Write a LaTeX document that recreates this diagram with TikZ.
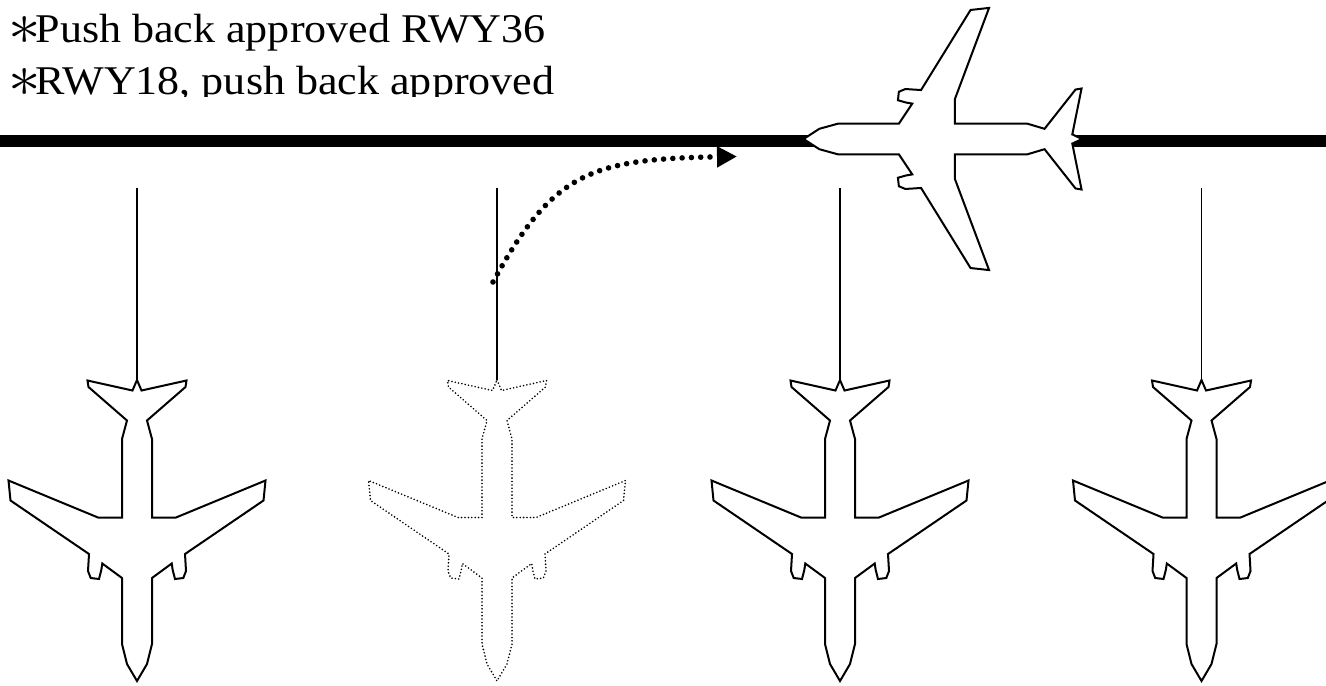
\documentclass[tikz,border=0pt]{standalone}
\usepackage{fontspec}
\setmainfont{Liberation Serif}
\usetikzlibrary{arrows.meta}

\tikzset{
  plane/.style={draw=black,line width=1pt,fill=white},
  ghost/.style={draw=black,line width=.9pt,line cap=round,dash pattern=on 0pt off 1.7pt},
  leadline/.style={line width=.6pt},
  runway/.style={line width=5.85pt},
  pushback/.style={line width=2.8pt,line cap=round,dash pattern=on 0pt off 4.65pt,
    -{Triangle[length=10pt,width=10pt]}},
  note/.style={anchor=base west,inner sep=0pt,font=\fontsize{20.4}{24}\selectfont,
    xscale=1.08,transform shape}
}

\newcommand\bigast{\raisebox{-1pt}{\scalebox{1.45}{$\ast$}}\kern-2.5pt}

% outline of an airliner, tail at (0,0), nose towards +y
\newcommand\airliner[1]{%
\draw[#1] (0,0) -- (4.5,10.5) -- (49.5,.5) -- (48.5,7) -- (10,40.5) -- (15,59)
  -- (15,137.5) -- (39,137.5) -- (128.5,100.5) -- (126.5,120.5) -- (48,174)
  -- (49,191) -- (46.3,198) -- (38,199) -- (35.7,190) -- (34.7,183.5)
  -- (15,198) -- (15,264) -- (10,284) -- (0,301)
  -- (-10,284) -- (-15,264) -- (-15,198) -- (-34.7,183.5) -- (-35.7,190)
  -- (-38,199) -- (-46.3,198) -- (-49,191) -- (-48,174) -- (-126.5,120.5)
  -- (-128.5,100.5) -- (-39,137.5) -- (-15,137.5) -- (-15,59) -- (-10,40.5)
  -- (-48.5,7) -- (-49.5,.5) -- (-4.5,10.5) -- cycle;}

\begin{document}
\begin{tikzpicture}[x=.5pt,y=-.5pt]
\useasboundingbox (0,0) rectangle (1326,685);
\begin{scope}
\clip (0,0) rectangle (1326,96.5);
\node[note] (clr36) at (8,42) {\bigast Push back approved RWY36};
\node[note] (clr18) at (8,94.3) {\bigast RWY18, push back approved};
\end{scope}
\draw[runway] (0,140.8) -- (1326,140.8);

\begin{scope}[shift={(137,380)}]
\draw[leadline] (0,-192) -- (0,0);
\airliner{plane}
\end{scope}
\begin{scope}[shift={(497,380)}]
\draw[leadline] (0,-192) -- (0,0);
\airliner{ghost}
\end{scope}
\begin{scope}[shift={(840,380)}]
\draw[leadline] (0,-192) -- (0,0);
\airliner{plane}
\end{scope}
\begin{scope}[shift={(1201.5,380)}]
\draw[leadline] (0,-192) -- (0,0);
\airliner{plane}
\end{scope}

\coordinate (gate) at (493,282);
\coordinate (hold) at (737,156.5);
\draw[pushback] (gate) .. controls (553,172) and (591,159) .. (hold);

% aircraft lined up on the runway
\begin{scope}[shift={(1082,139)},x={(0pt,-.51pt)},y={(-.4625pt,0pt)}]
\airliner{plane}
\end{scope}
\end{tikzpicture}
\end{document}
